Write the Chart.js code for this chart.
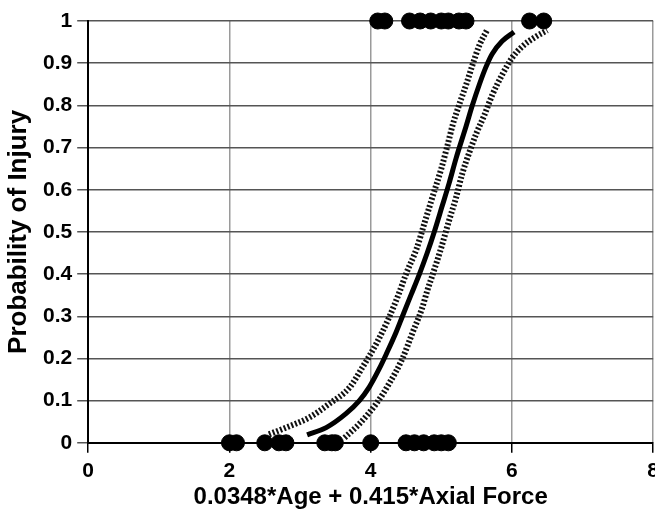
<!DOCTYPE html>
<html>
<head>
<meta charset="utf-8">
<script src="https://cdn.jsdelivr.net/npm/chart.js@4"></script>
<style>
html,body{margin:0;padding:0;background:#fff;overflow:hidden;}
#wrap{width:665px;height:514px;position:relative;}
</style>
</head>
<body>
<div id="wrap"><canvas id="c"></canvas></div>
<script>
// Observed cases
const injuredX = [4.1, 4.2, 4.55, 4.7, 4.85, 5.0, 5.1, 5.25, 5.35, 6.25, 6.45];
const injuredY = [1, 1, 1, 1, 1, 1, 1, 1, 1, 1, 1];
const uninjuredX = [2.0, 2.1, 2.5, 2.7, 2.8, 3.35, 3.45, 3.5, 4.0, 4.5, 4.62, 4.75, 4.9, 5.0, 5.1];
const uninjuredY = [0, 0, 0, 0, 0, 0, 0, 0, 0, 0, 0, 0, 0, 0, 0];

// Fitted probability curve
const fitX = [3.10, 3.37, 3.65, 3.84, 3.98, 4.12, 4.22, 4.36, 4.45, 4.57, 4.69, 4.80, 4.90, 5.01, 5.11, 5.21, 5.35, 5.44, 5.54, 5.63, 5.72, 5.86, 6.03];
const fitY = [0.019, 0.036, 0.069, 0.10, 0.132, 0.175, 0.21, 0.262, 0.30, 0.35, 0.40, 0.45, 0.50, 0.56, 0.615, 0.675, 0.75, 0.80, 0.85, 0.89, 0.922, 0.952, 0.974];

// Upper confidence band (left dotted)
const upperX = [2.56, 2.8, 3.13, 3.41, 3.70, 3.88, 4.08, 4.26, 4.40, 4.5, 4.65, 4.76, 4.87, 5.0, 5.08, 5.16, 5.25, 5.35, 5.44, 5.54, 5.65];
const upperY = [0.02, 0.036, 0.06, 0.092, 0.131, 0.178, 0.235, 0.297, 0.354, 0.40, 0.46, 0.52, 0.58, 0.65, 0.70, 0.753, 0.80, 0.848, 0.895, 0.943, 0.979];

// Lower confidence band (right dotted)
const lowerX = [3.63, 3.84, 4.08, 4.26, 4.45, 4.59, 4.73, 4.80, 4.87, 5.0, 5.11, 5.21, 5.30, 5.40, 5.5, 5.61, 5.72, 5.86, 6.0, 6.15, 6.33, 6.50];
const lowerY = [0.012, 0.045, 0.093, 0.14, 0.20, 0.26, 0.32, 0.36, 0.395, 0.463, 0.527, 0.582, 0.64, 0.69, 0.735, 0.777, 0.824, 0.872, 0.912, 0.94, 0.962, 0.978];

const xTicks = [0, 2, 4, 6, 8];
const yTickLabels = ['0', '0.1', '0.2', '0.3', '0.4', '0.5', '0.6', '0.7', '0.8', '0.9', '1'];

const pts = (xs, ys) => xs.map((x, i) => ({x: x, y: ys[i]}));
const FONT = 'Liberation Sans, Arial, sans-serif';

new Chart(document.getElementById('c'), {
  type: 'scatter',
  data: {
    datasets: [
      {data: pts(fitX, fitY), showLine: true, borderColor: '#000', borderWidth: 5, pointRadius: 0, cubicInterpolationMode: 'monotone', clip: false},
      {data: pts(upperX, upperY), showLine: true, borderColor: '#111', borderWidth: 6, borderDash: [2, 2], pointRadius: 0, cubicInterpolationMode: 'monotone', clip: false},
      {data: pts(lowerX, lowerY), showLine: true, borderColor: '#111', borderWidth: 6, borderDash: [2, 2], pointRadius: 0, cubicInterpolationMode: 'monotone', clip: false},
      {data: pts(injuredX, injuredY), backgroundColor: '#000', borderColor: '#000', pointRadius: 8, clip: false},
      {data: pts(uninjuredX, uninjuredY), backgroundColor: '#000', borderColor: '#000', pointRadius: 8, clip: false}
    ]
  },
  options: {
    responsive: true,
    maintainAspectRatio: false,
    animation: false,
    layout: {padding: {top: 21, left: 6, right: 0, bottom: 5}},
    plugins: {legend: {display: false}, tooltip: {enabled: false}},
    scales: {
      x: {
        type: 'linear', min: 0, max: 8,
        afterBuildTicks: s => { s.ticks = xTicks.map(v => ({value: v})); },
        ticks: {color: '#000', font: {family: FONT, size: 21, weight: 'bold'}, padding: 6, maxRotation: 0},
        grid: {color: '#9a9a9a', lineWidth: 1.5, tickLength: 10, tickColor: '#000'},
        border: {color: '#000', width: 2},
        title: {display: true, text: '0.0348*Age + 0.415*Axial Force', color: '#000', font: {family: FONT, size: 24, weight: 'bold', lineHeight: 1.0}, padding: {top: -5, bottom: 0}}
      },
      y: {
        type: 'linear', min: 0, max: 1,
        ticks: {stepSize: 0.1, color: '#000', font: {family: FONT, size: 21, weight: 'bold'}, padding: 5,
          callback: (v, i) => yTickLabels[i]},
        grid: {color: '#555', lineWidth: 1.5, tickLength: 11, tickColor: '#555'},
        border: {color: '#000', width: 2},
        title: {display: true, text: 'Probability of Injury', color: '#000', font: {family: FONT, size: 26, weight: 'bold', lineHeight: 1.0}, padding: {top: 0, bottom: 6}}
      }
    }
  }
});
</script>
</body>
</html>
